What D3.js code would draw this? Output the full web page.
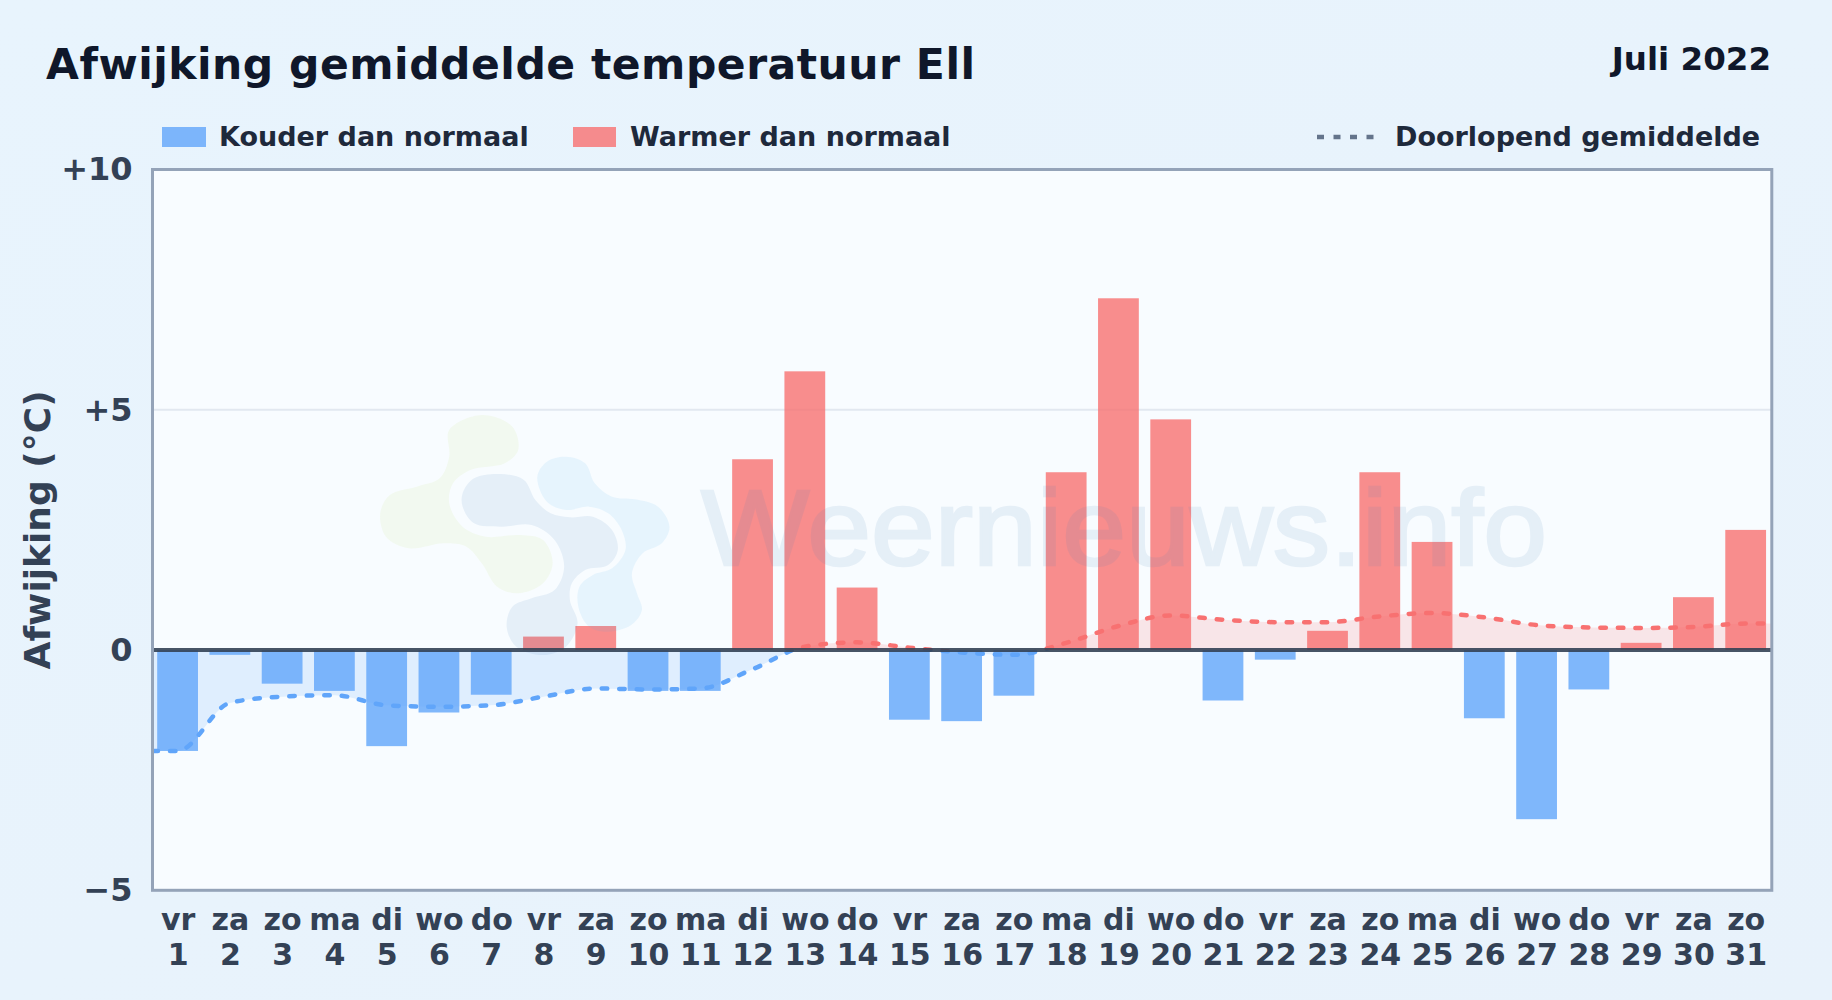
<!DOCTYPE html>
<html>
<head>
<meta charset="utf-8">
<script src="https://cdn.jsdelivr.net/npm/d3@7"></script>
<style>
	html, body { margin: 0; padding: 0; background: #e8f3fc; overflow: hidden; }
	text { font-family: "DejaVu Sans", sans-serif; font-weight: 700; }
</style>
</head>
<body>
<div id="chart"></div>
<script>
var days = [1,2,3,4,5,6,7,8,9,10,11,12,13,14,15,16,17,18,19,20,21,22,23,24,25,26,27,28,29,30,31];
var weekdays = ["vr","za","zo","ma","di","wo","do","vr","za","zo","ma","di","wo","do","vr","za","zo","ma","di","wo","do","vr","za","zo","ma","di","wo","do","vr","za","zo"];
var deviation = [-2.1,-0.1,-0.7,-0.85,-2.0,-1.3,-0.93,0.28,0.5,-0.85,-0.85,3.97,5.8,1.3,-1.45,-1.48,-0.95,3.7,7.32,4.8,-1.05,-0.2,0.4,3.7,2.25,-1.42,-3.52,-0.82,0.15,1.1,2.5];
// running mean; it runs from plot edge to plot edge
var meanDays = [0.52,1,2,3,4,5,6,7,8,9,10,11,12,13,14,15,16,17,18,19,20,21,22,23,24,25,26,27,28,29,30,31,31.5];
var meanValues = [-2.1,-2.1,-1.1,-0.97,-0.94,-1.15,-1.18,-1.15,-0.97,-0.8,-0.82,-0.8,-0.4,0.07,0.16,0.05,-0.05,-0.1,0.15,0.5,0.72,0.63,0.58,0.58,0.7,0.77,0.68,0.52,0.47,0.46,0.48,0.55,0.55];
var yTicks = [-5,0,5,10];
var yTickLabels = ["\u22125","0","+5","+10"];

var width = 1832, height = 1000;
var left = 152.5, right = 1771.8, top_ = 169.5, bottom = 890.3;
var blue = "#60a5fa", red = "#f87171";

var svg = d3.select("#chart").append("svg")
	.attr("width", width)
	.attr("height", height)
	.style("display", "block");

var defs = svg.append("defs");
var grad = defs.append("linearGradient").attr("id", "pageBg")
	.attr("x1", 0).attr("y1", 0).attr("x2", 1).attr("y2", 1);
grad.append("stop").attr("offset", "0%").attr("stop-color", "#e8f4fd");
grad.append("stop").attr("offset", "100%").attr("stop-color", "#e8f2fb");

svg.append("rect").attr("width", width).attr("height", height).attr("fill", "url(#pageBg)");

var x = d3.scaleLinear().domain([0.52, 31.5]).range([left, right]);
var y = d3.scaleLinear().domain([-5, 10]).range([bottom, top_]);
var barWidth = x(1.78) - x(1);

defs.append("clipPath").attr("id", "clipAbove").append("rect")
	.attr("x", left).attr("y", top_).attr("width", right - left).attr("height", y(0) - top_);
defs.append("clipPath").attr("id", "clipBelow").append("rect")
	.attr("x", left).attr("y", y(0)).attr("width", right - left).attr("height", bottom - y(0));

// plot background
svg.append("rect")
	.attr("x", left).attr("y", top_)
	.attr("width", right - left).attr("height", bottom - top_)
	.attr("fill", "#f8fcff");

// gridlines
svg.append("g").selectAll("line")
	.data(yTicks.filter(function(d) { return d == 5; }))
	.enter().append("line")
	.attr("x1", left).attr("x2", right)
	.attr("y1", function(d) { return y(d); })
	.attr("y2", function(d) { return y(d); })
	.attr("stroke", "#e2e8f0")
	.attr("stroke-width", 2);

// running mean area, blue below zero and red above
var meanData = meanDays.map(function(d, i) { return { day: d, value: meanValues[i] }; });
var area = d3.area()
	.x(function(d) { return x(d.day); })
	.y0(y(0))
	.y1(function(d) { return y(d.value); })
	.curve(d3.curveMonotoneX);
var line = d3.line()
	.x(function(d) { return x(d.day); })
	.y(function(d) { return y(d.value); })
	.curve(d3.curveMonotoneX);

[["clipBelow", blue], ["clipAbove", red]].forEach(function(s) {
	svg.append("path").datum(meanData)
		.attr("clip-path", "url(#" + s[0] + ")")
		.attr("d", area)
		.attr("fill", s[1])
		.attr("fill-opacity", 0.16);
});

// bars
svg.append("g").selectAll(".bar")
	.data(days)
	.enter().append("rect")
	.attr("class", "bar")
	.attr("x", function(d) { return x(d) - barWidth / 2; })
	.attr("width", barWidth)
	.attr("y", function(d, i) { return Math.min(y(0), y(deviation[i])); })
	.attr("height", function(d, i) { return Math.abs(y(deviation[i]) - y(0)); })
	.attr("fill", function(d, i) { return deviation[i] < 0 ? blue : red; })
	.attr("fill-opacity", 0.8);

[["clipBelow", blue], ["clipAbove", red]].forEach(function(s) {
	svg.append("path").datum(meanData)
		.attr("clip-path", "url(#" + s[0] + ")")
		.attr("d", line)
		.attr("fill", "none")
		.attr("stroke", s[1])
		.attr("stroke-width", 4.5)
		.attr("stroke-linecap", "round")
		.attr("stroke-dasharray", "5.5 12");
});

// watermark logo, outlines traced by eye
var logoX = d3.scaleLinear().domain([0, 2.61]).range([340, 341]);
var logoY = d3.scaleLinear().domain([0, 3]).range([380, 381]);
var logoLine = d3.line()
	.x(function(d) { return logoX(d[0]); })
	.y(function(d) { return logoY(d[1]); })
	.curve(d3.curveCatmullRomClosed);
var logoBlobs = [
	{ fill: "#a5d030", op: 0.07, pts: [[285,150],[370,105],[450,140],[465,210],[430,250],[340,270],[295,310],[285,370],[320,440],[380,470],[470,465],[530,480],[555,550],[530,610],[465,640],[410,620],[370,550],[330,500],[270,490],[180,505],[120,470],[105,400],[130,345],[200,320],[260,295],[285,230]] },
	{ fill: "#4483b9", op: 0.1, pts: [[320,340],[350,295],[420,282],[480,300],[510,360],[550,400],[600,412],[660,410],[710,450],[725,510],[700,555],[640,570],[605,610],[600,660],[620,730],[590,800],[530,825],[460,800],[435,740],[450,680],[500,655],[560,630],[585,560],[560,480],[500,435],[420,440],[350,430],[320,380]] },
	{ fill: "#4eb5eb", op: 0.1, pts: [[515,290],[540,245],[590,230],[640,250],[665,310],[710,350],[770,358],[830,380],[860,440],[840,490],[790,520],[762,580],[775,640],[788,690],[760,735],[700,755],[650,740],[622,680],[625,620],[660,585],[710,565],[745,510],[735,450],[700,400],[650,380],[590,390],[540,365]] }
];
svg.append("g").selectAll("path")
	.data(logoBlobs)
	.enter().append("path")
	.attr("d", function(d) { return logoLine(d.pts); })
	.attr("fill", function(d) { return d.fill; })
	.attr("fill-opacity", function(d) { return d.op; });

svg.append("text")
	.attr("x", 701).attr("y", 565)
	.attr("fill", "#4483b9")
	.attr("stroke", "#4483b9")
	.attr("stroke-width", 2.5)
	.attr("opacity", 0.1)
	.attr("textLength", 846)
	.attr("lengthAdjust", "spacingAndGlyphs")
	.style("font-family", "'Liberation Sans', sans-serif")
	.style("font-weight", 400)
	.style("font-size", "107px")
	.text("Weernieuws.info");

// zero line and frame
svg.append("line")
	.attr("x1", left).attr("x2", right)
	.attr("y1", y(0)).attr("y2", y(0))
	.attr("stroke", "#334155")
	.attr("stroke-opacity", 0.9)
	.attr("stroke-width", 4);
svg.append("rect")
	.attr("x", left).attr("y", top_)
	.attr("width", right - left).attr("height", bottom - top_)
	.attr("fill", "none")
	.attr("stroke", "#94a3b8")
	.attr("stroke-width", 3);

// axes
var yAxis = svg.append("g")
	.attr("transform", "translate(" + left + ",0)")
	.call(d3.axisLeft(y).tickValues(yTicks).tickSize(0).tickPadding(20)
		.tickFormat(function(d, i) { return yTickLabels[i]; }));
yAxis.select(".domain").remove();
yAxis.selectAll("text")
	.attr("fill", "#334155")
	.style("font-size", "32px");

var xAxis = svg.append("g")
	.attr("transform", "translate(0," + bottom + ")")
	.call(d3.axisBottom(x).tickValues(days).tickSize(0).tickFormat(""));
xAxis.select(".domain").remove();
var xLabels = xAxis.selectAll(".tick text")
	.attr("fill", "#334155")
	.attr("y", 0)
	.attr("dy", 0)
	.style("font-size", "30px");
xLabels.append("tspan").attr("x", 0).attr("y", 40)
	.text(function(d, i) { return weekdays[i]; });
xLabels.append("tspan").attr("x", 0).attr("y", 74.7)
	.text(function(d) { return d; });

svg.append("text")
	.attr("transform", "translate(50," + (top_ + bottom) / 2 + ") rotate(-90)")
	.attr("text-anchor", "middle")
	.attr("fill", "#334155")
	.style("font-size", "36px")
	.text("Afwijking (\u00b0C)");

// titles
svg.append("text")
	.attr("x", 46).attr("y", 79.3)
	.attr("fill", "#0f172a")
	.style("font-size", "42.5px")
	.style("letter-spacing", "0.5px")
	.text("Afwijking gemiddelde temperatuur Ell");
svg.append("text")
	.attr("x", 1771).attr("y", 70)
	.attr("text-anchor", "end")
	.attr("fill", "#0f172a")
	.style("font-size", "32.5px")
	.text("Juli 2022");

// legend
var legendY = 137;
[[162, 44, blue, 219, "Kouder dan normaal"], [573, 43, red, 630, "Warmer dan normaal"]].forEach(function(l) {
	svg.append("rect")
		.attr("x", l[0]).attr("y", legendY - 10)
		.attr("width", l[1]).attr("height", 20)
		.attr("fill", l[2]).attr("fill-opacity", 0.8);
	svg.append("text")
		.attr("x", l[3]).attr("y", legendY + 9)
		.attr("fill", "#1e293b")
		.style("font-size", "27px")
		.text(l[4]);
});
svg.append("line")
	.attr("x1", 1317).attr("x2", 1376)
	.attr("y1", legendY).attr("y2", legendY)
	.attr("stroke", "#64748b")
	.attr("stroke-width", 4.5)
	.attr("stroke-dasharray", "7 9.5");
svg.append("text")
	.attr("x", 1395).attr("y", legendY + 9)
	.attr("fill", "#1e293b")
	.style("font-size", "27px")
	.text("Doorlopend gemiddelde");
</script>
</body>
</html>
